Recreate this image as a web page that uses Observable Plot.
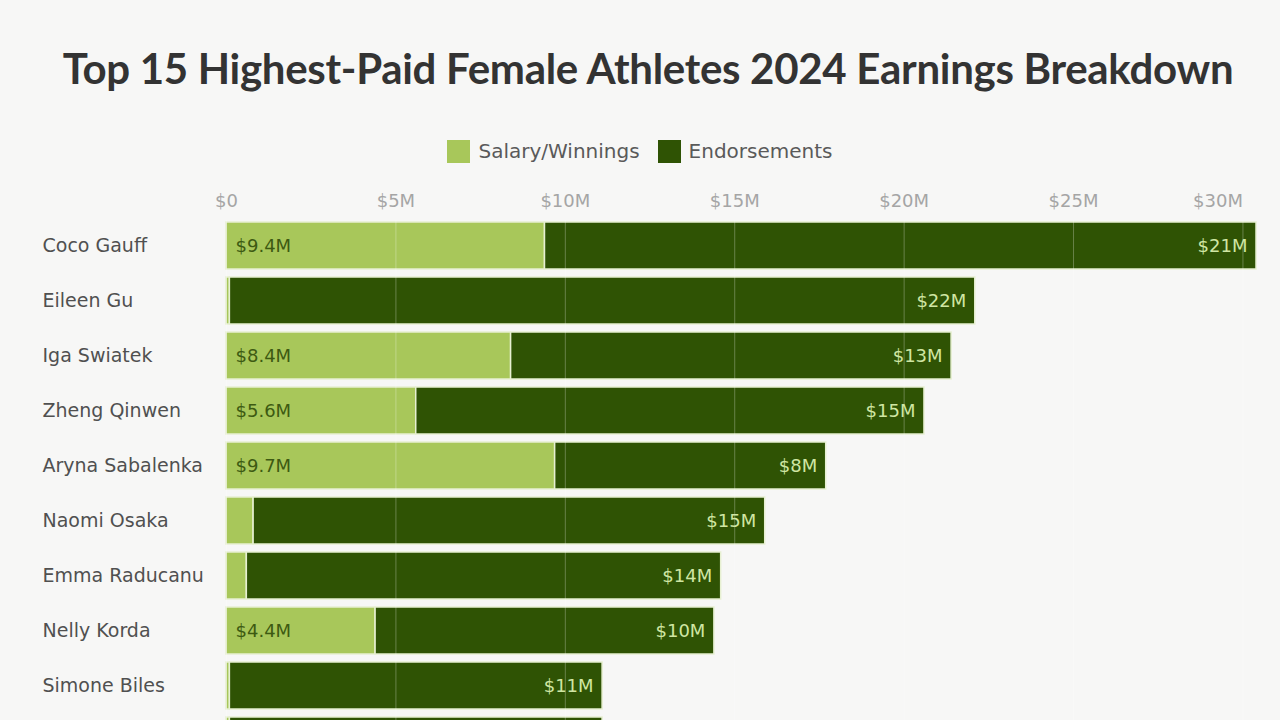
<!DOCTYPE html>
<html>
<head>
<meta charset="utf-8">
<script src="https://cdn.jsdelivr.net/npm/d3@7"></script>
<script src="https://cdn.jsdelivr.net/npm/@observablehq/plot@0.6"></script>
<style>
  html, body { margin: 0; padding: 0; background: #f7f7f6; overflow: hidden; width: 1280px; height: 720px; }
  #title { position: absolute; top: 41px; left: 8px; width: 1280px; text-align: center; font-family: Lato, "Open Sans", sans-serif; font-weight: 700; font-size: 42px; color: #333; line-height: 54px; letter-spacing: -0.3px; }
  #legend { position: absolute; top: 139px; left: 0; width: 1280px; display: flex; justify-content: center; align-items: center; font-family: "DejaVu Sans", sans-serif; font-size: 20px; color: #5a5a5a; }
  .sw { display: inline-block; width: 23px; height: 23px; margin-right: 8px; }
  .item { display: inline-flex; align-items: center; margin: 0 9px; }
  #chart { position: absolute; top: 180px; left: 0; }
</style>
</head>
<body>
<div id="title">Top 15 Highest-Paid Female Athletes 2024 Earnings Breakdown</div>
<div id="legend"></div>
<div id="chart"></div>
<script>
const athletes = ["Coco Gauff","Eileen Gu","Iga Swiatek","Zheng Qinwen","Aryna Sabalenka","Naomi Osaka","Emma Raducanu","Nelly Korda","Simone Biles","Caitlin Clark"];
const salary = [9.4, 0.1, 8.4, 5.6, 9.7, 0.8, 0.6, 4.4, 0.1, 0.1];
const endorsements = [21, 22, 13, 15, 8, 15.1, 14, 10, 11, 11];
const seriesNames = ["Salary/Winnings", "Endorsements"];
const seriesColors = ["#a8c75a", "#2f5304"];
const xTicks = [0, 5, 10, 15, 20, 25];
const xTickLast = [30];

const long = [];
athletes.forEach((a, i) => {
  long.push({name: a, type: seriesNames[0], value: salary[i]});
  long.push({name: a, type: seriesNames[1], value: endorsements[i]});
});
const totals = athletes.map((a, i) => ({name: a, total: salary[i] + endorsements[i], endo: endorsements[i], sal: salary[i]}));

const legend = document.getElementById("legend");
seriesNames.forEach((s, i) => {
  const it = document.createElement("span");
  it.className = "item";
  it.innerHTML = `<span class="sw" style="background:${seriesColors[i]}"></span>${s}`;
  legend.appendChild(it);
});

const fmtTick = d => d === 0 ? "$0" : `$${d}M`;
const F = "DejaVu Sans, sans-serif";

const chart = Plot.plot({
  width: 1280,
  height: 586,
  marginLeft: 226,
  marginRight: 24,
  marginTop: 40,
  marginBottom: 0,
  style: {background: "transparent", fontFamily: F},
  x: {domain: [0, d3.max(totals, d => d.total)], axis: null},
  y: {domain: athletes, axis: null, paddingInner: 0.15, paddingOuter: 0},
  color: {domain: seriesNames, range: seriesColors},
  marks: [
    Plot.barX(long, {y: "name", x: "value", fill: "type", order: seriesNames, stroke: "#e7f0d2", strokeWidth: 1.5}),
    Plot.gridX(xTicks.concat(xTickLast), {stroke: "#ffffff", strokeOpacity: 0.28, strokeWidth: 1}),
    Plot.axisX(xTicks, {anchor: "top", tickSize: 0, tickPadding: 14, tickFormat: fmtTick, fontSize: 18, fill: "#a5a5a5", label: null}),
    Plot.axisX(xTickLast, {anchor: "top", tickSize: 0, tickPadding: 14, tickFormat: fmtTick, fontSize: 18, fill: "#a5a5a5", textAnchor: "end", label: null}),
    Plot.axisY({anchor: "left", tickSize: 0, tickPadding: 0, dx: -184, textAnchor: "start", fontSize: 19, fill: "#505050", label: null}),
    Plot.text(totals.filter(d => d.sal >= 1), {y: "name", x: 0, text: d => `$${d.sal}M`, textAnchor: "start", dx: 9, fontSize: 18, fill: "#3d5a12"}),
    Plot.text(totals, {y: "name", x: "total", text: d => `$${Math.round(d.endo)}M`, textAnchor: "end", dx: -9, fontSize: 18, fill: "#cfe6a3"})
  ]
});
document.getElementById("chart").appendChild(chart);
</script>
</body>
</html>
